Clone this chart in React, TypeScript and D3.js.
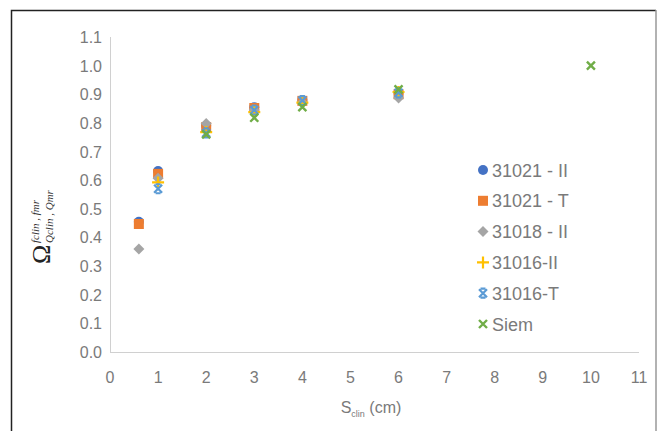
import React, { useEffect, useRef } from 'react';
import * as d3 from 'd3';

const seriesNames = ['31021 - II', '31021 - T', '31018 - II', '31016-II', '31016-T', 'Siem'];
const seriesColors = ['#4472C4', '#ED7D31', '#A5A5A5', '#FFC000', '#5B9BD5', '#70AD47'];
const seriesMarkers = ['circle', 'square', 'diamond', 'plus', 'star', 'x'];

const s31021II_x = [0.6, 1.0, 2.0, 3.0, 4.0, 6.0];
const s31021II_y = [0.455, 0.632, 0.79, 0.855, 0.88, 0.905];
const s31021T_x = [0.6, 1.0, 2.0, 3.0, 4.0, 6.0];
const s31021T_y = [0.447, 0.622, 0.785, 0.852, 0.877, 0.9];
const s31018II_x = [0.6, 1.0, 2.0, 3.0, 4.0, 6.0];
const s31018II_y = [0.36, 0.607, 0.798, 0.845, 0.872, 0.887];
const s31016II_x = [1.0, 2.0, 3.0, 4.0, 6.0];
const s31016II_y = [0.592, 0.768, 0.838, 0.871, 0.908];
const s31016T_x = [1.0, 2.0, 3.0, 4.0, 6.0];
const s31016T_y = [0.57, 0.765, 0.845, 0.878, 0.905];
const siem_x = [2.0, 3.0, 4.0, 6.0, 10.0];
const siem_y = [0.76, 0.818, 0.855, 0.917, 1.0];

const seriesX = [s31021II_x, s31021T_x, s31018II_x, s31016II_x, s31016T_x, siem_x];
const seriesY = [s31021II_y, s31021T_y, s31018II_y, s31016II_y, s31016T_y, siem_y];

const xTicks = d3.range(0, 12, 1);
const yTicks = d3.range(0, 1.11, 0.1);

function drawMarker(g: any, type: string, color: string, cx: number, cy: number) {
  if (type === 'circle') {
    g.append('circle').attr('cx', cx).attr('cy', cy).attr('r', 5).attr('fill', color);
  } else if (type === 'square') {
    g.append('rect').attr('x', cx - 5).attr('y', cy - 5).attr('width', 10).attr('height', 10).attr('fill', color);
  } else if (type === 'diamond') {
    g.append('path').attr('d', `M${cx},${cy - 5.5}L${cx + 5.5},${cy}L${cx},${cy + 5.5}L${cx - 5.5},${cy}Z`).attr('fill', color);
  } else if (type === 'plus') {
    g.append('path').attr('d', `M${cx - 6},${cy}H${cx + 6}M${cx},${cy - 6}V${cy + 6}`)
      .attr('stroke', color).attr('stroke-width', 2.2).attr('fill', 'none');
  } else if (type === 'star') {
    g.append('path').attr('d', `M${cx - 4},${cy - 4}L${cx + 4},${cy + 4}M${cx + 4},${cy - 4}L${cx - 4},${cy + 4}M${cx - 2.5},${cy - 4.5}H${cx + 2.5}M${cx - 2.5},${cy + 4.5}H${cx + 2.5}`)
      .attr('stroke', color).attr('stroke-width', 2.2).attr('fill', 'none');
  } else if (type === 'x') {
    g.append('path').attr('d', `M${cx - 4},${cy - 4}L${cx + 4},${cy + 4}M${cx + 4},${cy - 4}L${cx - 4},${cy + 4}`)
      .attr('stroke', color).attr('stroke-width', 2.4).attr('fill', 'none');
  }
}

export default function App() {
  const ref = useRef<SVGSVGElement>(null);

  useEffect(() => {
    const svg = d3.select(ref.current);
    svg.selectAll('*').remove();

    const x = d3.scaleLinear().domain([0, 11]).range([110, 639]);
    const y = d3.scaleLinear().domain([0, 1.1]).range([352, 37]);
    const font = 'Liberation Sans, Arial, sans-serif';
    const txt = '#7a7a7a';

    svg.append('rect').attr('width', 659).attr('height', 431).attr('fill', '#fff');
    // frame
    svg.append('path').attr('d', 'M11.5,440V10.5H656').attr('stroke', '#222').attr('stroke-width', 1.5).attr('fill', 'none');
    svg.append('line').attr('x1', 656).attr('x2', 656).attr('y1', 10).attr('y2', 440).attr('stroke', '#999').attr('stroke-width', 1.5);

    // axes lines
    svg.append('line').attr('x1', x(0)).attr('x2', x(11)).attr('y1', y(0) + 0.5).attr('y2', y(0) + 0.5)
      .attr('stroke', '#d0d0d0').attr('stroke-width', 1);
    svg.append('line').attr('x1', x(0) + 0.5).attr('x2', x(0) + 0.5).attr('y1', y(1.1)).attr('y2', y(0))
      .attr('stroke', '#d0d0d0').attr('stroke-width', 1);

    svg.append('g').selectAll('text').data(yTicks).enter().append('text')
      .attr('x', 102).attr('y', (d: number) => y(d) + 6)
      .attr('text-anchor', 'end').attr('font-family', font).attr('font-size', 16).attr('fill', txt)
      .text((d: number) => d3.format('.1f')(d));

    svg.append('g').selectAll('text').data(xTicks).enter().append('text')
      .attr('x', (d: number) => x(d)).attr('y', 383)
      .attr('text-anchor', 'middle').attr('font-family', font).attr('font-size', 16).attr('fill', txt)
      .text((d: number) => String(d));

    // x title
    const xt = svg.append('text').attr('x', 371).attr('y', 413).attr('text-anchor', 'middle')
      .attr('font-family', font).attr('font-size', 16).attr('fill', txt);
    xt.append('tspan').text('S');
    xt.append('tspan').attr('font-size', 9).attr('dy', 4).text('clin');
    xt.append('tspan').attr('dy', -4).text(' (cm)');

    // y title (rotated)
    const yg = svg.append('g').attr('transform', 'translate(50,264) rotate(-90)');
    yg.append('text').attr('x', 0).attr('y', 0).attr('font-family', 'Liberation Serif, serif')
      .attr('font-size', 26).attr('fill', '#222').text('Ω');
    yg.append('text').attr('x', 21).attr('y', -11).attr('font-family', 'Liberation Serif, serif')
      .attr('font-style', 'italic').attr('font-size', 11).attr('fill', '#333').text('fclin , fmr');
    yg.append('text').attr('x', 21).attr('y', 3).attr('font-family', 'Liberation Serif, serif')
      .attr('font-style', 'italic').attr('font-size', 11).attr('fill', '#333').text('Qclin , Qmr');

    // points
    seriesNames.forEach((name, i) => {
      const g = svg.append('g');
      seriesX[i].forEach((xv, j) => {
        drawMarker(g, seriesMarkers[i], seriesColors[i], x(xv), y(seriesY[i][j]));
      });
    });

    // legend
    seriesNames.forEach((name, i) => {
      const ly = 170 + i * 30.8;
      drawMarker(svg, seriesMarkers[i], seriesColors[i], 483, ly);
      svg.append('text').attr('x', 492).attr('y', ly + 6.5).attr('font-family', font)
        .attr('font-size', 18).attr('fill', txt).text(name);
    });
  }, []);

  return (
    <svg ref={ref} width={659} height={431} style={{ position: 'absolute', left: 0, top: 0 }} />
  );
}
